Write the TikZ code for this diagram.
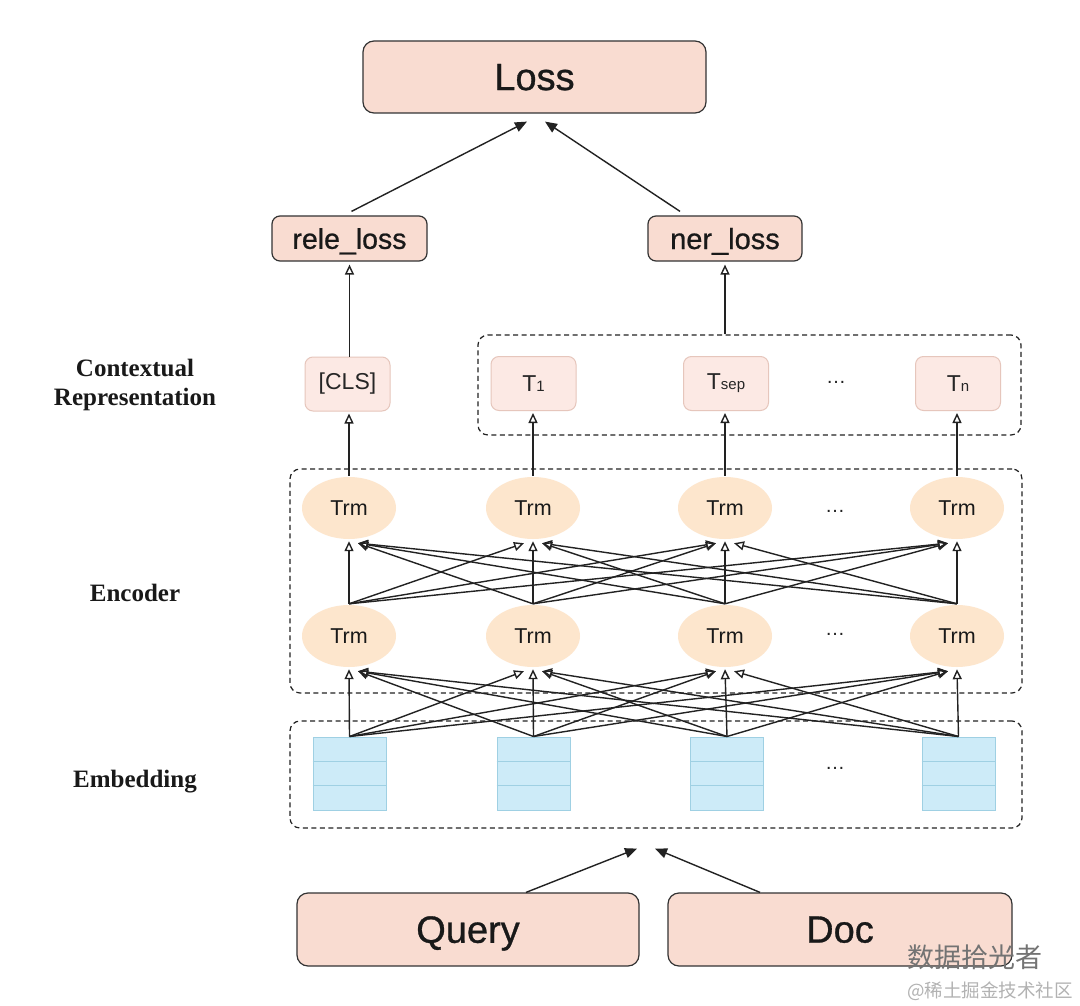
\documentclass[tikz,border=0pt]{standalone}
\usepackage{fontspec}
\setmainfont{Liberation Sans}
\newfontfamily\boxfont{Liberation Sans}[FakeBold=0.8]
\newfontfamily\labfont{Liberation Serif}
\newfontfamily\cjk{Noto Sans CJK SC}
\usetikzlibrary{arrows.meta,shapes.geometric,calc}
\definecolor{lossfill}{HTML}{F9DCD1}
\definecolor{lossline}{HTML}{333333}
\definecolor{tokfill}{HTML}{FCE9E4}
\definecolor{tokline}{HTML}{E6C6BC}
\definecolor{trmfill}{HTML}{FDE6CD}
\definecolor{embfill}{HTML}{CDEBF8}
\definecolor{embline}{HTML}{9FD0E3}
\definecolor{ink}{HTML}{222222}
\tikzset{
  bigbox/.style={draw=lossline, fill=lossfill, line width=1.2pt, rounded corners=11pt,
    minimum width=343pt, minimum height=72pt, inner sep=0pt, text depth=0pt,
    font=\boxfont\fontsize{38}{44}\selectfont, text=black!90},
  midbox/.style={draw=lossline, fill=lossfill, line width=1.2pt, rounded corners=8pt,
    minimum width=155pt, minimum height=45pt, inner sep=0pt, text depth=0pt,
    font=\boxfont\fontsize{28.5}{32}\selectfont, text=black!90},
  tokbox/.style={draw=tokline, fill=tokfill, line width=1pt, rounded corners=8pt,
    minimum width=85pt, minimum height=54pt, inner sep=0pt,
    font=\fontsize{23}{27}\selectfont, text=black!85},
  trm/.style={ellipse, fill=trmfill, draw=none, minimum width=94pt, minimum height=62pt,
    inner sep=0pt, font=\fontsize{21.5}{25}\selectfont, text=black!90},
  stackbox/.style={rectangle, fill=embfill, draw=embline, line width=1pt,
    minimum width=73pt, minimum height=73pt, inner sep=0pt},
  stackline/.style={draw=embline, line width=1pt},
  group/.style={draw=ink, dashed, dash pattern=on 5pt off 3.5pt, line width=1.2pt,
    rounded corners=10pt, inner sep=0pt},
  openarr/.style={draw=ink, line width=1.4pt, -{Triangle[open, width=9pt, length=10pt]}},
  fillarr/.style={draw=ink, line width=1.4pt, -{Triangle[width=10pt, length=12pt]}},
  sidelab/.style={font=\labfont\bfseries\fontsize{25}{29.5}\selectfont, align=center, text=black!90},
  dots/.style={font=\fontsize{20}{24}\selectfont, text=ink},
}
\begin{document}
\begin{tikzpicture}[x=1pt,y=-1pt]
\useasboundingbox[fill=white] (0,0) rectangle (1080,1006);

% groups
\node[group, minimum width=543pt, minimum height=100pt] (ctx) at (749.5,385) {};
\node[group, minimum width=732pt, minimum height=224pt] (enc) at (656,581) {};
\node[group, minimum width=732pt, minimum height=107pt] (emb) at (656,774.5) {};

% top
\node[bigbox] (loss) at (534.5,77) {Loss};
\node[midbox] (rele) at (349.5,238.5) {rele\_loss};
\node[midbox, minimum width=154pt, font=\boxfont\fontsize{29}{32}\selectfont] (ner) at (725,238.5) {ner\_loss};

% contextual tokens
\node[tokbox] (c1) at (347.5,384) {[CLS]};
\node[tokbox] (c2) at (533.5,383.5) {T{\fontsize{15}{18}\selectfont 1}};
\node[tokbox] (c3) at (726,383.5) {T{\fontsize{15}{18}\selectfont sep}};
\node[tokbox] (c4) at (958,383.5) {T{\fontsize{15}{18}\selectfont n}};
\node[dots] (cd) at (836,382) {\dots};

% encoder
\node[trm] (u1) at (349,508) {Trm};
\node[trm] (u2) at (533,508) {Trm};
\node[trm] (u3) at (725,508) {Trm};
\node[trm] (u4) at (957,508) {Trm};
\node[dots] (ud) at (835,511) {\dots};
\node[trm] (l1) at (349,636) {Trm};
\node[trm] (l2) at (533,636) {Trm};
\node[trm] (l3) at (725,636) {Trm};
\node[trm] (l4) at (957,636) {Trm};
\node[dots] (ld) at (835,634) {\dots};

% embedding stacks
\node[stackbox] (e1) at (349.5,773.5) {};
\node[stackbox] (e2) at (533.5,773.5) {};
\node[stackbox] (e3) at (727,773.5) {};
\node[stackbox] (e4) at (958.5,773.5) {};
\foreach \i in {1,...,4}{
  \draw[stackline] ($(e\i.north west)!1/3!(e\i.south west)$) -- ($(e\i.north east)!1/3!(e\i.south east)$);
  \draw[stackline] ($(e\i.north west)!2/3!(e\i.south west)$) -- ($(e\i.north east)!2/3!(e\i.south east)$);
}
\node[dots] (ed) at (835,768) {\dots};

% inputs
\node[bigbox, minimum width=342pt, minimum height=73pt] (query) at (468,929.5) {Query};
\node[bigbox, minimum width=344pt, minimum height=73pt] (doc) at (840,929.5) {Doc};

% side labels
\node[sidelab] (lab1) at (135,385) {Contextual\\Representation};
\node[sidelab] (lab2) at (135,593) {Encoder};
\node[sidelab] (lab3) at (135,782) {Embedding};

% arrows to loss
\draw[fillarr] ([xshift=2pt,yshift=4pt]rele.north) -- ([xshift=-7.5pt,yshift=-8pt]loss.south);
\draw[fillarr] ([xshift=-45pt,yshift=4pt]ner.north) -- ([xshift=10.5pt,yshift=-8pt]loss.south);

% to losses
\draw[openarr] (rele.south |- c1.north) -- ([yshift=-3pt]rele.south);
\draw[openarr] (ner.south |- ctx.north) -- ([yshift=-3pt]ner.south);

% trm to contextual
\foreach \i in {1,...,4}{
  \draw[openarr] ([yshift=1pt]u\i.north) -- ([yshift=-2pt]u\i.north |- c\i.south);
}

% lower to upper and embedding to lower
\foreach \s in {1,...,4}{
  \foreach \t in {1,...,4}{
    \ifnum\s<\t \def\dx{-9}\def\dy{-4}\else\ifnum\s>\t \def\dx{9}\def\dy{-4}\else\def\dx{0}\def\dy{-2}\fi\fi
    \draw[openarr] ([yshift=1pt]l\s.north) -- ([xshift=\dx pt, yshift=\dy pt]u\t.south);
    \draw[openarr] (e\s.north) -- ([xshift=\dx pt, yshift=\dy pt]l\t.south);
  }
}

% inputs to embedding
\draw[fillarr] ([xshift=58pt]query.north) -- ([xshift=-19pt,yshift=-20pt]emb.south);
\draw[fillarr] ([xshift=-80pt]doc.north) -- ([xshift=-1pt,yshift=-20pt]emb.south);

% watermark
\node[font=\cjk\fontsize{27}{30}\selectfont, text=black!55] (wm1) at (975,957) {数据拾光者};
\node[font=\cjk\fontsize{18.5}{22}\selectfont, text=black!30] (wm2) at (990,991) {@稀土掘金技术社区};
\end{tikzpicture}
\end{document}
